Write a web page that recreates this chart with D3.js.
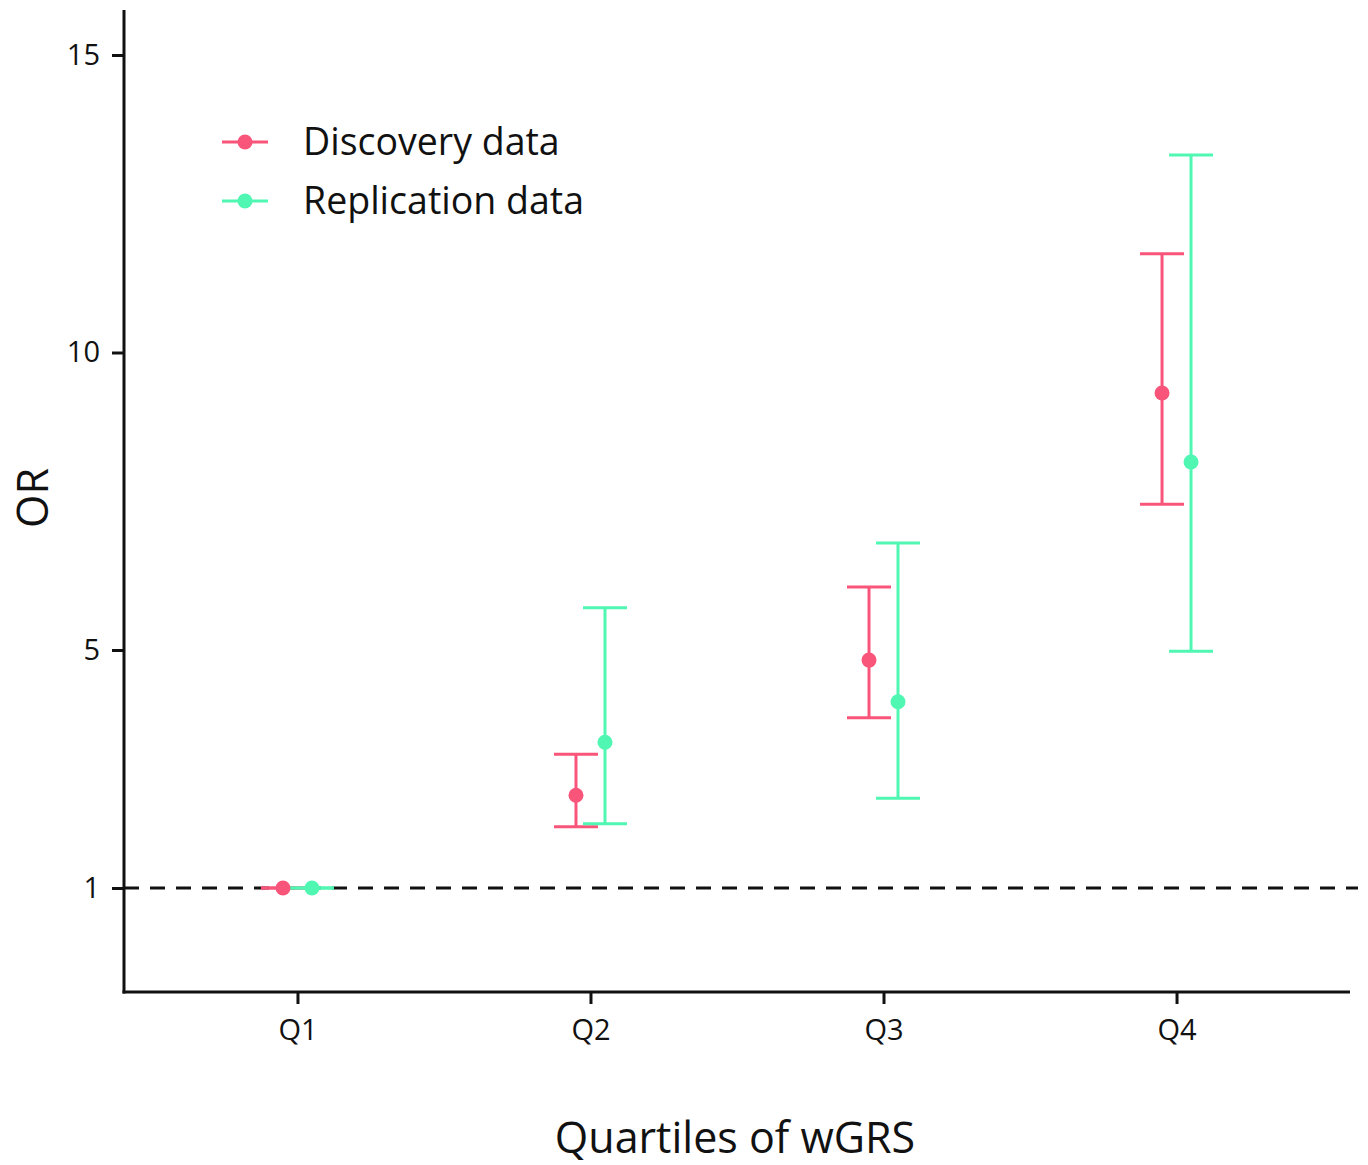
<!DOCTYPE html>
<html><head><meta charset="utf-8">
<script src="https://cdn.jsdelivr.net/npm/d3@7/dist/d3.min.js"></script>
<style>body{margin:0;background:#fff}svg{display:block}text{font-family:"Open Sans",sans-serif;fill:#111}</style>
</head><body>
<svg id="c" width="1368" height="1165"></svg>
<script>
const categories = ["Q1","Q2","Q3","Q4"];
const seriesNames = ["Discovery data","Replication data"];
const seriesColors = ["#F9547A","#4FF7B2"];
const discoveryOR = [1, 2.56, 4.83, 9.32];
const discoveryLo = [1, 2.03, 3.86, 7.45];
const discoveryHi = [1, 3.25, 6.06, 11.66];
const replicationOR = [1, 3.45, 4.13, 8.16];
const replicationLo = [1, 2.08, 2.51, 4.98];
const replicationHi = [1, 5.71, 6.80, 13.32];
const yTicks = [1, 5, 10, 15];
const refLine = 1;

const svg = d3.select("#c");
const L = 124, R = 1350, T = 10, B = 992;
const y = d3.scaleLinear().domain([1 - (B-888)/59.5, 15 + (55-T)/59.5]).range([B, T]);
const x = d3.scalePoint().domain(categories).range([L, R]).padding(0.592);
const dodge = d3.scalePoint().domain(seriesNames).range([-14.5, 14.5]);

const series = [
  {name: seriesNames[0], color: seriesColors[0], or: discoveryOR, lo: discoveryLo, hi: discoveryHi},
  {name: seriesNames[1], color: seriesColors[1], or: replicationOR, lo: replicationLo, hi: replicationHi}
];

// reference dashed line
svg.append("line").attr("x1", L).attr("x2", 1358).attr("y1", y(refLine)).attr("y2", y(refLine))
  .attr("stroke", "#111").attr("stroke-width", 3).attr("stroke-dasharray", "15,11");

// axes
const yAxis = svg.append("g").attr("transform", `translate(${L},0)`)
  .call(d3.axisLeft(y).tickValues(yTicks).tickSize(12).tickPadding(12).tickFormat(d3.format("d")));
const xAxis = svg.append("g").attr("transform", `translate(0,${B})`)
  .call(d3.axisBottom(x).tickSize(12).tickPadding(15));
[yAxis, xAxis].forEach(g => {
  g.select(".domain").remove();
  g.selectAll(".tick line").attr("stroke", "#111").attr("stroke-width", 3);
  g.selectAll(".tick text").attr("font-size", 29).attr("fill", "#111").attr("font-family", '"Open Sans",sans-serif');
});
svg.append("line").attr("x1", L).attr("x2", L).attr("y1", T).attr("y2", B+1.5).attr("stroke", "#111").attr("stroke-width", 3);
svg.append("line").attr("x1", L-1.5).attr("x2", R).attr("y1", B).attr("y2", B).attr("stroke", "#111").attr("stroke-width", 3);

// error bars and points
const capHalf = 22;
series.forEach(s => {
  const g = svg.append("g");
  categories.forEach((c, i) => {
    const cx = x(c) + dodge(s.name);
    g.append("line").attr("x1", cx).attr("x2", cx).attr("y1", y(s.lo[i])).attr("y2", y(s.hi[i]))
      .attr("stroke", s.color).attr("stroke-width", 3);
    [s.lo[i], s.hi[i]].forEach(v => {
      g.append("line").attr("x1", cx - capHalf).attr("x2", cx + capHalf).attr("y1", y(v)).attr("y2", y(v))
        .attr("stroke", s.color).attr("stroke-width", 3);
    });
  });
});
series.forEach(s => {
  categories.forEach((c, i) => {
    svg.append("circle").attr("cx", x(c) + dodge(s.name)).attr("cy", y(s.or[i])).attr("r", 7.5).attr("fill", s.color);
  });
});

// legend
series.forEach((s, i) => {
  const ly = 142 + i * 59;
  svg.append("line").attr("x1", 222).attr("x2", 268).attr("y1", ly).attr("y2", ly).attr("stroke", s.color).attr("stroke-width", 3);
  svg.append("circle").attr("cx", 245).attr("cy", ly).attr("r", 7.5).attr("fill", s.color);
  svg.append("text").attr("x", 303).attr("y", ly + 13).attr("font-size", 37.5).text(s.name);
});

// axis titles
svg.append("text").attr("transform", "translate(48,498) rotate(-90)").attr("text-anchor", "middle")
  .attr("font-size", 43).text("OR");
svg.append("text").attr("x", 735).attr("y", 1153).attr("text-anchor", "middle")
  .attr("font-size", 43).text("Quartiles of wGRS");
</script>
</body></html>
